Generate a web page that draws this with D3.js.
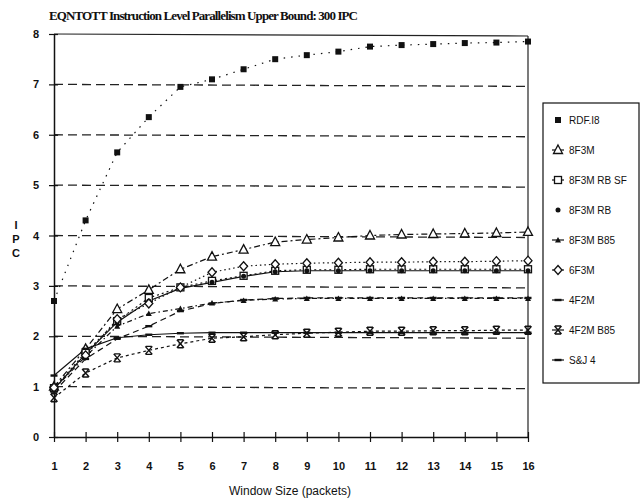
<!DOCTYPE html>
<html>
<head>
<meta charset="utf-8">
<script src="https://cdn.jsdelivr.net/npm/d3@7/dist/d3.min.js"></script>
<style>
body { margin: 0; background: #fff; }
text { fill: #111; }
</style>
</head>
<body>
<svg id="chart" width="643" height="503"></svg>
<script>
// window sizes 1..16
var windows = [1,2,3,4,5,6,7,8,9,10,11,12,13,14,15,16];
var yTicks = [0,1,2,3,4,5,6,7,8];

var rdf    = [2.7,4.3,5.65,6.35,6.95,7.1,7.3,7.5,7.58,7.65,7.75,7.78,7.8,7.82,7.83,7.85];
var f8     = [1.0,1.75,2.54,2.92,3.33,3.58,3.72,3.87,3.92,3.96,4.0,4.02,4.03,4.04,4.05,4.07];
var f8rbsf = [0.97,1.68,2.3,2.76,2.97,3.1,3.2,3.3,3.32,3.32,3.33,3.33,3.33,3.33,3.33,3.33];
var f8rb   = [0.95,1.65,2.28,2.7,2.95,3.07,3.19,3.28,3.3,3.3,3.3,3.3,3.3,3.3,3.3,3.3];
var f8b85  = [0.95,1.6,2.2,2.45,2.55,2.66,2.71,2.74,2.75,2.75,2.75,2.75,2.75,2.75,2.75,2.75];
var f6     = [0.98,1.62,2.34,2.65,2.97,3.27,3.39,3.43,3.45,3.46,3.47,3.47,3.48,3.48,3.49,3.5];
var f4     = [0.9,1.55,1.95,2.2,2.5,2.65,2.72,2.75,2.76,2.76,2.76,2.76,2.76,2.76,2.76,2.76];
var f4b85  = [0.78,1.27,1.57,1.72,1.85,1.96,1.99,2.03,2.06,2.08,2.1,2.1,2.11,2.11,2.12,2.12];
var sj4    = [1.22,1.75,1.97,2.03,2.06,2.07,2.07,2.07,2.07,2.07,2.07,2.07,2.07,2.07,2.07,2.07];

var names = ["RDF.I8","8F3M","8F3M RB SF","8F3M RB","8F3M B85","6F3M","4F2M","4F2M B85","S&J 4"];
var series = [rdf,f8,f8rbsf,f8rb,f8b85,f6,f4,f4b85,sj4];
var markers = ["fsquare","triangle","square","dot","ftri","diamond","bar","cross","bar"];
var dashes = ["1.5,6","6,3,2,3","2,3","none","5,3,1.5,3","1.5,3","6,4","3,3","none"];

var svg = d3.select("#chart");
var x = d3.scaleLinear().domain([1,16]).range([54,528]);
var y = d3.scaleLinear().domain([0,8]).range([437,34]);

svg.append("text")
	.attr("x", 49).attr("y", 20)
	.attr("textLength", 309)
	.style("font-family", "Liberation Serif, serif")
	.style("font-size", "13px")
	.style("font-weight", "bold")
	.text("EQNTOTT Instruction Level Parallelism Upper Bound: 300 IPC");

// dashed grid lines
svg.append("g").selectAll("line")
	.data([1,2,3,4,5,6,7])
	.enter().append("line")
	.attr("x1", x(1)).attr("x2", x(16))
	.attr("y1", function(d){ return y(d); })
	.attr("y2", function(d){ return y(d) + 2; })
	.attr("stroke", "#222")
	.attr("stroke-width", 1.3)
	.attr("stroke-dasharray", "9,5");

// frame
svg.append("line").attr("x1", x(1)).attr("x2", x(16)).attr("y1", y(8)).attr("y2", y(8) + 2)
	.attr("stroke", "#222").attr("stroke-width", 1.2);
svg.append("line").attr("x1", x(16)).attr("x2", x(16)).attr("y1", y(8) + 2).attr("y2", y(0))
	.attr("stroke", "#222").attr("stroke-width", 1.2);

var xAxis = svg.append("g")
	.attr("transform", "translate(0," + y(0) + ")")
	.call(d3.axisBottom(x).tickValues(windows).tickSize(5).tickSizeOuter(0).tickPadding(20));
xAxis.selectAll(".tick line").attr("y1", -5);
var yAxis = svg.append("g")
	.attr("transform", "translate(" + x(1) + ",0)")
	.call(d3.axisLeft(y).tickValues(yTicks).tickSize(5).tickSizeOuter(0).tickPadding(10));
yAxis.selectAll(".tick line").attr("x1", 4);
svg.selectAll(".domain").attr("stroke", "#111").attr("stroke-width", 1.5);
svg.selectAll(".tick line").attr("stroke", "#111").attr("stroke-width", 1.2);
svg.selectAll(".tick text")
	.style("font-family", "Liberation Sans, Arial, sans-serif")
	.style("font-size", "11px")
	.style("font-weight", "bold")
	.attr("fill", "#111");

svg.append("text")
	.attr("x", 290).attr("y", 495)
	.attr("text-anchor", "middle")
	.style("font-family", "Liberation Sans, Arial, sans-serif")
	.style("font-size", "12px")
	.text("Window Size (packets)");

svg.selectAll(".ipc")
	.data(["I","P","C"])
	.enter().append("text")
	.attr("x", 16)
	.attr("y", function(d, i){ return 229 + i * 14; })
	.attr("text-anchor", "middle")
	.style("font-family", "Liberation Sans, Arial, sans-serif")
	.style("font-size", "11px")
	.style("font-weight", "bold")
	.text(function(d){ return d; });

function drawMarker(g, type, cx, cy) {
	if (type == "fsquare") {
		g.append("rect").attr("x", cx-3).attr("y", cy-3).attr("width", 6).attr("height", 6).attr("fill", "#111");
	} else if (type == "triangle") {
		g.append("path").attr("d", "M" + cx + "," + (cy-5) + "L" + (cx+4.5) + "," + (cy+3.5) + "L" + (cx-4.5) + "," + (cy+3.5) + "Z")
			.attr("fill", "#fff").attr("stroke", "#111").attr("stroke-width", 1.3);
	} else if (type == "square") {
		g.append("rect").attr("x", cx-3.5).attr("y", cy-3.5).attr("width", 7).attr("height", 7)
			.attr("fill", "#fff").attr("stroke", "#111").attr("stroke-width", 1.3);
	} else if (type == "dot") {
		g.append("circle").attr("cx", cx).attr("cy", cy).attr("r", 2.5).attr("fill", "#111");
	} else if (type == "ftri") {
		g.append("path").attr("d", "M" + cx + "," + (cy-3) + "L" + (cx+3) + "," + (cy+2.5) + "L" + (cx-3) + "," + (cy+2.5) + "Z")
			.attr("fill", "#111");
	} else if (type == "diamond") {
		g.append("path").attr("d", "M" + cx + "," + (cy-4.5) + "L" + (cx+4) + "," + cy + "L" + cx + "," + (cy+4.5) + "L" + (cx-4) + "," + cy + "Z")
			.attr("fill", "#fff").attr("stroke", "#111").attr("stroke-width", 1.3);
	} else if (type == "bar") {
		g.append("rect").attr("x", cx-3.5).attr("y", cy-1.2).attr("width", 7).attr("height", 2.4).attr("fill", "#111");
	} else if (type == "cross") {
		g.append("path").attr("d", "M" + (cx-3.5) + "," + (cy-4) + "L" + (cx+3.5) + "," + (cy+4) + "M" + (cx+3.5) + "," + (cy-4) + "L" + (cx-3.5) + "," + (cy+4)
			+ "M" + (cx-3) + "," + (cy-4) + "L" + (cx+3) + "," + (cy-4) + "M" + (cx-3) + "," + (cy+4) + "L" + (cx+3) + "," + (cy+4))
			.attr("fill", "none").attr("stroke", "#111").attr("stroke-width", 1.4);
	}
}

var line = d3.line()
	.x(function(d, i){ return x(windows[i]); })
	.y(function(d){ return y(d); });

var plot = svg.append("g");
series.forEach(function(s, k) {
	plot.append("path")
		.datum(s)
		.attr("d", line)
		.attr("fill", "none")
		.attr("stroke", "#111")
		.attr("stroke-width", 1.2)
		.attr("stroke-dasharray", dashes[k]);
});
series.forEach(function(s, k) {
	var g = plot.append("g");
	s.forEach(function(v, i){ drawMarker(g, markers[k], x(windows[i]), y(v)); });
});

// legend
var legend = svg.append("g");
legend.append("rect")
	.attr("x", 543).attr("y", 103).attr("width", 96).attr("height", 280)
	.attr("fill", "none").attr("stroke", "#111").attr("stroke-width", 1.2);
names.forEach(function(n, k) {
	var ly = 120 + k * 30;
	legend.append("line").attr("x1", 552).attr("x2", 564).attr("y1", ly).attr("y2", ly)
		.attr("stroke", "#111").attr("stroke-width", 1.2).attr("stroke-dasharray", k == 0 || k == 3 ? "0,20" : "none");
	drawMarker(legend, markers[k], 558, ly);
	legend.append("text")
		.attr("x", 569).attr("y", ly + 4)
		.style("font-family", "Liberation Sans, Arial, sans-serif")
		.style("font-size", "10px")
		.text(n);
});
</script>
</body>
</html>
